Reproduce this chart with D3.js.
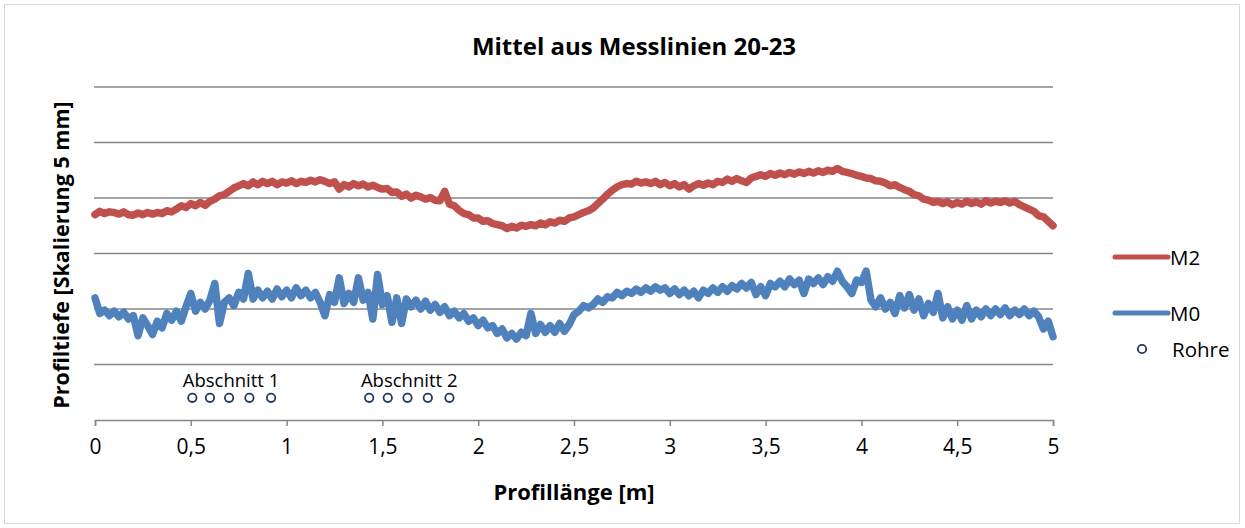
<!DOCTYPE html>
<html>
<head>
<meta charset="utf-8">
<script src="https://cdn.jsdelivr.net/npm/d3@7"></script>
<style>
  body { margin: 0; background: #fff; }
  svg { display: block; font-family: "Open Sans", "Noto Sans", sans-serif; }
</style>
</head>
<body>
<svg id="chart" width="1245" height="528"></svg>
<script>
// Profil-Messung, Mittel aus Messlinien 20-23 (Werte in mm, Raster 5 mm)
const step = 0.025; // m

const m2Values = [
  18.5, 18.8, 18.6, 18.75,  18.7, 18.55, 18.75, 18.5,  18.45, 18.65, 18.5, 18.7,
  18.55, 18.7, 18.6, 18.85,  18.75, 19.0, 19.3, 19.15,  19.5, 19.3, 19.6, 19.35,
  19.7, 19.9, 20.2, 20.3,  20.6, 20.9, 21.1, 21.3,  21.1, 21.45, 21.2, 21.5,
  21.3, 21.5, 21.2, 21.45,  21.35, 21.55, 21.3, 21.5,  21.4, 21.6, 21.45, 21.65,
  21.5, 21.3, 21.45, 20.8,  21.2, 21.0, 21.3, 21.1,  21.25, 21.0, 21.15, 20.95,
  20.8, 20.85, 20.5, 20.55,  20.15, 20.35, 20.0, 20.25,  20.1, 19.9, 20.05, 19.8,
  19.75, 20.6, 19.45, 19.3,  18.9, 18.6, 18.5, 18.2,  18.2, 17.9, 17.95, 17.7,
  17.6, 17.5, 17.25, 17.45,  17.3, 17.55, 17.45, 17.6,  17.5, 17.75, 17.6, 17.85,
  17.75, 18.0, 17.9, 18.2,  18.3, 18.5, 18.7, 18.85,  19.1, 19.5, 19.9, 20.35,
  20.7, 21.0, 21.2, 21.3,  21.25, 21.5, 21.35, 21.45,  21.3, 21.5, 21.2, 21.4,
  21.1, 21.3, 21.0, 21.2,  20.8, 21.1, 21.3, 21.15,  21.35, 21.2, 21.5, 21.4,
  21.7, 21.5, 21.75, 21.55,  21.4, 21.8, 21.95, 22.1,  21.95, 22.2, 22.05, 22.25,
  22.1, 22.3, 22.15, 22.35,  22.2, 22.4, 22.25, 22.45,  22.3, 22.5, 22.4, 22.65,
  22.4, 22.3, 22.2, 22.05,  21.95, 21.8, 21.75, 21.55,  21.5, 21.35, 21.1, 21.2,
  20.95, 20.75, 20.6, 20.3,  20.2, 19.9, 19.8, 19.6,  19.7, 19.5, 19.65, 19.4,
  19.6, 19.45, 19.7, 19.5,  19.65, 19.45, 19.75, 19.55,  19.7, 19.6, 19.75, 19.55,
  19.7, 19.4, 19.2, 19.0,  18.8, 18.4, 18.3, 17.9,  17.5
];

const m0Values = [
  11.0, 9.6, 9.9, 9.4,  9.8, 9.3, 9.7, 9.1,  9.4, 7.6, 9.2, 8.5,
  7.7, 8.9, 8.3, 9.6,  9.0, 9.8, 8.9, 10.2,  11.4, 9.8, 10.6, 10.0,
  10.8, 12.3, 8.7, 10.6,  11.0, 10.3, 11.5, 10.9,  13.2, 10.9, 11.7, 11.0,
  11.6, 10.9, 11.8, 11.1,  11.7, 11.0, 11.9, 11.2,  11.7, 11.0, 11.5, 10.6,
  9.4, 11.3, 10.6, 12.8,  10.5, 11.4, 10.6, 12.8,  10.8, 11.5, 9.1, 13.1,
  10.4, 11.2, 8.8, 11.0,  8.7, 10.9, 10.2, 10.8,  10.0, 10.7, 9.9, 10.4,
  9.7, 10.2, 9.4, 9.8,  9.2, 9.6, 8.9, 9.2,  8.5, 9.0, 8.3, 8.5,
  7.8, 8.2, 7.4, 7.8,  7.3, 7.9, 7.6, 9.6,  7.8, 8.6, 7.9, 8.5,
  7.9, 8.7, 8.0, 8.6,  9.5, 9.8, 10.3, 10.1,  10.4, 10.9, 10.6, 11.1,
  11.0, 11.5, 11.2, 11.6,  11.4, 11.8, 11.5, 11.9,  11.6, 12.0, 11.7, 11.9,
  11.4, 11.8, 11.3, 11.7,  11.2, 11.6, 11.0, 11.7,  11.4, 11.9, 11.5, 12.0,
  11.6, 12.1, 11.8, 12.3,  11.9, 12.4, 11.3, 12.0,  11.2, 12.3, 12.0, 12.5,
  12.0, 12.7, 12.2, 12.6,  11.4, 12.7, 12.3, 12.8,  12.2, 12.9, 12.5, 13.4,
  12.5, 12.0, 11.4, 12.6,  12.4, 13.4, 10.8, 10.2,  11.0, 10.0, 10.6, 9.6,
  11.2, 10.1, 11.3, 9.9,  10.9, 9.4, 10.5, 9.7,  11.4, 9.2, 10.2, 9.1,
  9.9, 9.0, 10.3, 9.1,  9.9, 9.3, 10.0, 9.4,  10.0, 9.5, 10.1, 9.4,
  9.9, 9.5, 10.0, 9.4,  9.8, 9.3, 8.2, 8.9,  7.5
];

const rohreX = [0.508, 0.60, 0.70, 0.806, 0.919, 1.431, 1.528, 1.631, 1.737, 1.850];
const rohreY = [2, 2, 2, 2, 2, 2, 2, 2, 2, 2];
const abschnitte = [
  { name: "Abschnitt 1", x: 0.71, y: 3.0 },
  { name: "Abschnitt 2", x: 1.64, y: 3.0 }
];

const xTicks = [0, 0.5, 1, 1.5, 2, 2.5, 3, 3.5, 4, 4.5, 5];
const yTicks = [5, 10, 15, 20, 25, 30];

const seriesList = [
  { name: "M2", values: m2Values, color: "#C0504D" },
  { name: "M0", values: m0Values, color: "#4F81BD" }
];

const svg = d3.select('#chart');
const margin = { left: 95, right: 192, top: 87, bottom: 108 };
const width = 1245 - margin.left - margin.right;
const height = 528 - margin.top - margin.bottom;

// Rahmen
svg.append('rect')
  .attr('x', 4.5).attr('y', 4.5)
  .attr('width', 1235).attr('height', 519)
  .attr('fill', '#fff')
  .attr('stroke', '#d9d9d9')
  .attr('stroke-width', 1);

const x = d3.scaleLinear().domain([0, 5]).range([0, width]);
const y = d3.scaleLinear().domain([0, 30]).range([height, 0]);

const g = svg.append('g').attr('transform', `translate(${margin.left},${margin.top})`);

// Gitterlinien
g.append('g')
  .selectAll('line')
  .data(yTicks)
  .enter()
  .append('line')
  .attr('x1', -1).attr('x2', width)
  .attr('y1', d => y(d)).attr('y2', d => y(d))
  .attr('stroke', '#868686')
  .attr('stroke-width', 1.5);

// x-Achse
const xAxis = g.append('g')
  .attr('transform', `translate(0,${height})`)
  .call(d3.axisBottom(x)
    .tickValues(xTicks)
    .tickSize(6)
    .tickPadding(13)
    .tickFormat(d => String(d).replace('.', ',')));
xAxis.select('.domain').attr('stroke', '#868686').attr('stroke-width', 1.5);
xAxis.selectAll('.tick line').attr('stroke', '#868686').attr('stroke-width', 1.5);
xAxis.selectAll('.tick text')
  .attr('fill', '#000')
  .style('font-size', '21px')
  .style('font-family', '"Open Sans", sans-serif');

// Messreihen
const line = d3.line()
  .x((d, i) => x(i * step))
  .y(d => y(d))
  .curve(d3.curveLinear);

g.selectAll('path.series')
  .data(seriesList)
  .enter()
  .append('path')
  .attr('class', 'series')
  .attr('d', d => line(d.values))
  .attr('fill', 'none')
  .attr('stroke', d => d.color)
  .attr('stroke-width', 7.5)
  .attr('stroke-linejoin', 'round')
  .attr('stroke-linecap', 'round');

// Rohre
g.selectAll('circle.rohr')
  .data(rohreX)
  .enter()
  .append('circle')
  .attr('class', 'rohr')
  .attr('cx', d => x(d))
  .attr('cy', (d, i) => y(rohreY[i]))
  .attr('r', 4.2)
  .attr('fill', '#fff')
  .attr('stroke', '#1F3864')
  .attr('stroke-width', 1.8);

g.selectAll('text.abschnitt')
  .data(abschnitte)
  .enter()
  .append('text')
  .attr('class', 'abschnitt')
  .attr('x', d => x(d.x))
  .attr('y', d => y(d.y))
  .attr('text-anchor', 'middle')
  .style('font-size', '18.5px')
  .attr('fill', '#000')
  .text(d => d.name);

// Titel
svg.append('text')
  .attr('x', 634).attr('y', 55)
  .attr('text-anchor', 'middle')
  .style('font-size', '24px')
  .style('font-weight', 'bold')
  .text('Mittel aus Messlinien 20-23');

svg.append('text')
  .attr('x', margin.left + width / 2).attr('y', 500)
  .attr('text-anchor', 'middle')
  .style('font-size', '22px')
  .style('font-weight', 'bold')
  .text('Profillänge [m]');

svg.append('text')
  .attr('transform', 'translate(69,255) rotate(-90)')
  .attr('text-anchor', 'middle')
  .style('font-size', '21.5px')
  .style('font-weight', 'bold')
  .text('Profiltiefe [Skalierung 5 mm]');

// Legende
const legend = svg.append('g').attr('transform', 'translate(1113,0)');
const legendItems = legend.selectAll('g.item')
  .data(seriesList)
  .enter()
  .append('g')
  .attr('class', 'item')
  .attr('transform', (d, i) => `translate(0,${257 + i * 56})`);

legendItems.append('line')
  .attr('x1', 2).attr('x2', 55)
  .attr('stroke', d => d.color)
  .attr('stroke-width', 5)
  .attr('stroke-linecap', 'round');

legendItems.append('text')
  .attr('x', 57).attr('y', 7.5)
  .style('font-size', '20.5px')
  .text(d => d.name);

const rohrItem = legend.append('g').attr('transform', 'translate(0,349)');
rohrItem.append('circle')
  .attr('cx', 29).attr('cy', 0).attr('r', 4.2)
  .attr('fill', '#fff')
  .attr('stroke', '#1F3864')
  .attr('stroke-width', 1.8);
rohrItem.append('text')
  .attr('x', 59).attr('y', 7.5)
  .style('font-size', '20.5px')
  .text('Rohre');
</script>
</body>
</html>
